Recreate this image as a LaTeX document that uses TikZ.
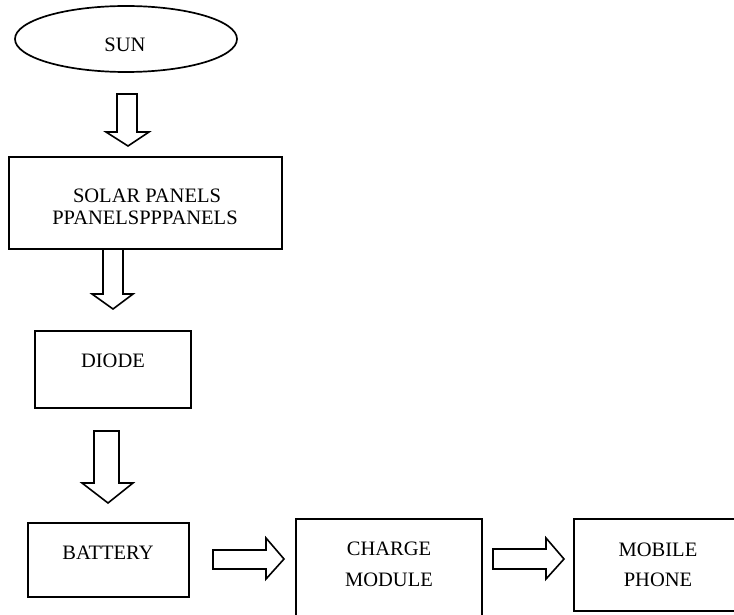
\documentclass[tikz,border=0pt]{standalone}
\usepackage{fontspec}
\setmainfont{Liberation Serif}
\begin{document}
\begin{tikzpicture}[x=1pt,y=-1pt,
  boxline/.style={draw=black,line width=1.7pt},
  blk/.style={draw=black,line width=1.6pt,fill=white,line join=miter},
  lbl/.style={anchor=base,inner sep=0pt,font=\fontsize{20.5}{24}\selectfont}]
\useasboundingbox (0,0) rectangle (734,615);
% shapes
\draw[boxline] (126,39) ellipse [x radius=111,y radius=33];
\coordinate (sun) at (126,39);
\draw[boxline] (9,157) rectangle (282,249);
\draw[boxline] (35,331) rectangle (191,408);
\draw[boxline] (28,523) rectangle (189,597);
\draw[boxline] (296,519) rectangle (482,625);
\draw[boxline] (574,519) rectangle (745,611);
% labels
\node[lbl] (tsun) at (125,52) {SUN};
\node[lbl] (tsol1) at (147,202) {SOLAR PANELS};
\node[lbl] (tsol2) at (145,225) {PPANELSPPPANELS};
\node[lbl] (tdio) at (113,367) {DIODE};
\node[lbl] (tbat) at (108,559) {BATTERY};
\node[lbl] (tch1) at (389,555) {CHARGE};
\node[lbl] (tch2) at (389,586) {MODULE};
\node[lbl] (tmo1) at (658,556) {MOBILE};
\node[lbl] (tmo2) at (658,586) {PHONE};
% block arrows
\draw[blk] (117,94) -- (137,94) -- (137,132) -- (149,132) -- (128,146) -- (106,132) -- (117,132) -- cycle;
\draw[blk] (103,249) -- (123,249) -- (123,294) -- (133,294) -- (113,309) -- (92,294) -- (103,294) -- cycle;
\draw[blk] (94,431) -- (119,431) -- (119,483) -- (133,483) -- (108,503) -- (82,483) -- (94,483) -- cycle;
\draw[blk] (213,550) -- (266,550) -- (266,538) -- (284,559) -- (266,579) -- (266,569) -- (213,569) -- cycle;
\draw[blk] (493,549) -- (546,549) -- (546,538) -- (564,559) -- (546,579) -- (546,569) -- (493,569) -- cycle;
\end{tikzpicture}
\end{document}
